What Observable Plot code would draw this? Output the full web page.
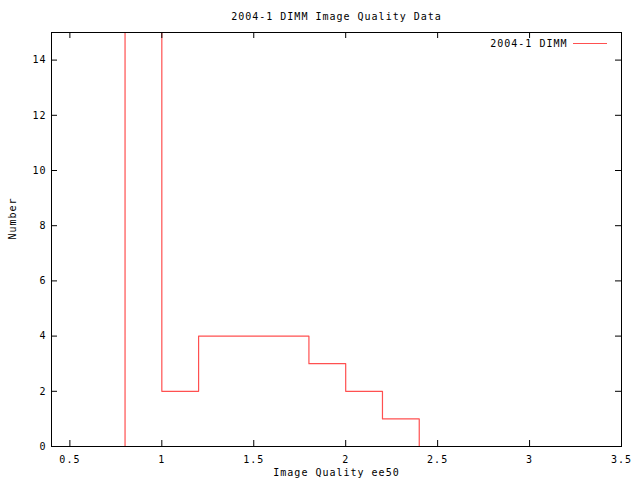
<!DOCTYPE html>
<html><head><meta charset="utf-8">
<script src="https://cdn.jsdelivr.net/npm/d3@7"></script>
<script src="https://cdn.jsdelivr.net/npm/@observablehq/plot@0.6"></script>
<style>body{margin:0;background:#fff}svg{display:block}svg text{letter-spacing:1px}</style>
</head><body><div id="chart"></div>
<script>
const title = "2004-1 DIMM Image Quality Data";
const seriesName = "2004-1 DIMM";
const xLabel = "Image Quality ee50";
const yLabel = "Number";
const binStart = [0.6, 0.8, 1.0, 1.2, 1.4, 1.6, 1.8, 2.0, 2.2, 2.4, 2.6];
const counts =   [0,   20,  2,   4,   4,   4,   3,   2,   1,   0,   0];
const xTicks = [0.5, 1, 1.5, 2, 2.5, 3, 3.5];
const yTicks = [0, 2, 4, 6, 8, 10, 12, 14];

const data = binStart.map((x, i) => ({x, y: counts[i]}));
const W = 640, H = 480, mL = 51, mR = 19, mT = 32, mB = 34;
const iw = W - mL - mR, ih = H - mT - mB;
const red = "#ff5050";
const font = "DejaVu Sans Mono, monospace";

const chart = Plot.plot({
  width: W, height: H,
  marginLeft: mL, marginRight: mR, marginTop: mT, marginBottom: mB,
  style: {fontFamily: font, fontSize: "10px", background: "#fff", color: "#000"},
  x: {domain: [0.4, 3.5]},
  y: {domain: [0, 15]},
  marks: [
    Plot.line(data, {x: "x", y: "y", curve: "step-after", stroke: red, strokeWidth: 1.2, clip: true}),
    Plot.tickX(xTicks, {x: d => d, insetTop: ih - 6, stroke: "#000"}),
    Plot.tickX(xTicks, {x: d => d, insetBottom: ih - 6, stroke: "#000"}),
    Plot.tickY(yTicks, {y: d => d, insetRight: iw - 6, stroke: "#000"}),
    Plot.tickY(yTicks, {y: d => d, insetLeft: iw - 6, stroke: "#000"}),
    Plot.axisX({ticks: xTicks, tickSize: 0, tickPadding: 9, tickFormat: d => String(d), label: null, fontSize: 10}),
    Plot.axisY({ticks: yTicks, tickSize: 0, tickPadding: 5, tickFormat: d => String(d), label: null, fontSize: 10}),
    Plot.frame({stroke: "#000"}),
    Plot.text([title], {frameAnchor: "top", lineAnchor: "middle", dy: -16, fontSize: 10}),
    Plot.text([xLabel], {frameAnchor: "bottom", lineAnchor: "middle", dy: 26, fontSize: 10}),
    Plot.text([yLabel], {frameAnchor: "left", lineAnchor: "middle", dx: -39, rotate: -90, fontSize: 10}),
    Plot.text([seriesName], {frameAnchor: "top-right", lineAnchor: "middle", dx: -54, dy: 11, textAnchor: "end", fontSize: 10}),
    Plot.ruleY([15], {dy: 11, insetLeft: 573 - mL, insetRight: W - mR - 607, stroke: red})
  ]
});
document.getElementById("chart").append(chart);
</script>
</body></html>
